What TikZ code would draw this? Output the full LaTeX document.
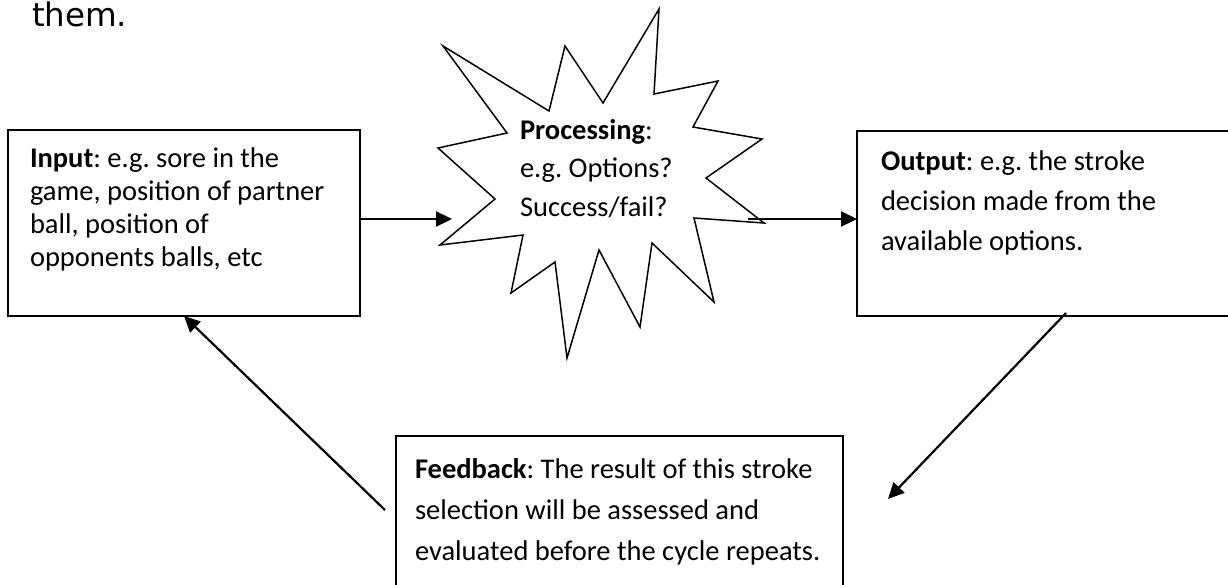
\documentclass[tikz,border=0pt]{standalone}
\usepackage{fontspec}
\setmainfont{Carlito}
\newfontfamily\themfont{DejaVu Sans}
\usetikzlibrary{arrows.meta}
\frenchspacing
\newcommand\mytextblock[3]{\parbox[t]{#1}{\fontsize{28.5}{#2}\selectfont\frenchspacing\raggedright #3}}
\begin{document}
\begin{tikzpicture}[x=1pt,y=-1pt,
  box/.style={draw=black, line width=2.1pt, inner sep=0pt, outer sep=0pt, anchor=north west},
  txt/.style={anchor=base west, inner sep=0pt, outer sep=0pt},
  arr/.style={draw=black, line width=2.2pt, -{Triangle[length=16pt,width=15pt]}},
  burst/.style={draw=black, line width=1.5pt, line join=miter, fill=white}
]
\useasboundingbox (0,0) rectangle (1228,584);
\clip (0,0) rectangle (1228,584);
\fill[white] (0,0) rectangle (1228,584);

% top text fragment
\node[txt, font=\themfont\fontsize{32.5}{38}\selectfont] (them) at (32,26) {them.};

% boxes
\node[box, minimum width=352pt, minimum height=186pt] (input) at (8,130) {};
\node[box, minimum width=420pt, minimum height=185pt] (output) at (857,131) {};
\node[box, minimum width=447pt, minimum height=220pt] (feedback) at (396,436) {};

% starburst
\draw[burst] (443,46) -- (549,111) -- (565,46) -- (603,103) -- (659,9) -- (654,94)
  -- (718,81) -- (693,127) -- (762,139) -- (706,178) -- (764,223) -- (694,218)
  -- (714,302) -- (652,243) -- (640,327) -- (599,250) -- (567,358) -- (555,262)
  -- (511,293) -- (523,235) -- (440,245) -- (495,199) -- (438,148) -- (507,133) -- cycle;

% texts
\node[txt] (inputtext) at (30,167) {\mytextblock{330pt}{33pt}{\textbf{Input}: e.g. sore in the\\game, position of partner\\ball, position of\\opponents balls, etc}};
\node[txt] (proc) at (520,139) {\mytextblock{200pt}{38.5pt}{\textbf{Processing}:\\e.g. Options?\\Success/fail?}};
\node[txt] (outputtext) at (881,170) {\mytextblock{340pt}{40pt}{\textbf{Output}: e.g. the stroke\\decision made from the\\available options.}};
\node[txt] (feedbacktext) at (415,478) {\mytextblock{420pt}{41pt}{\textbf{Feedback}: The result of this stroke\\selection will be assessed and\\evaluated before the cycle repeats.}};

% connector ends
\coordinate (procin) at (452,219);
\coordinate (procout) at (748,219);
\coordinate (fbin) at (888,499);
\coordinate (fbout) at (385,510);

% connectors
\draw[arr] ([yshift=4pt]input.east) -- (procin);
\draw[arr] (procout) -- (procout -| output.west);
\draw[arr] ([xshift=-1pt,yshift=3pt]output.south) -- (fbin);
\draw[arr] (fbout) -- (input.south);
\end{tikzpicture}
\end{document}
